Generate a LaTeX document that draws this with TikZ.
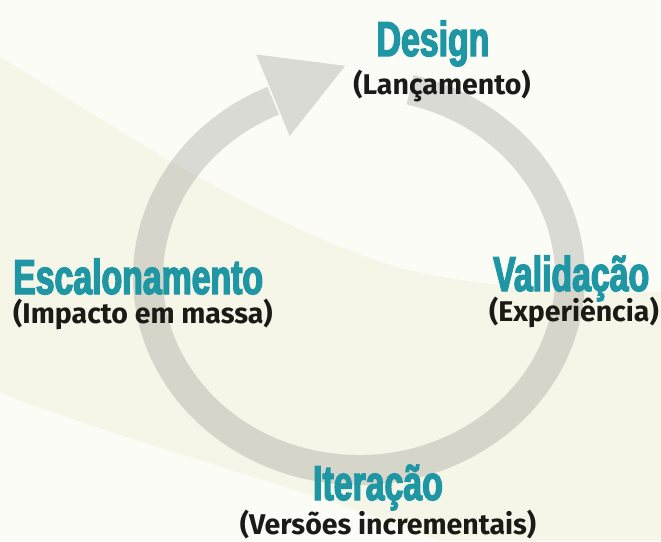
\documentclass[tikz,border=0pt]{standalone}
\usepackage{fontspec}
\setmainfont{Fira Sans}
\newfontfamily\headfont[FakeStretch=0.69,FakeBold=2.8]{Liberation Sans Bold}
\newfontfamily\subfont{Fira Sans}
\definecolor{bgbase}{RGB}{252,252,247}
\definecolor{bgpale}{RGB}{245,246,232}
\definecolor{ringgray}{RGB}{140,140,132}
\definecolor{teal}{RGB}{30,150,163}
\definecolor{darktext}{RGB}{26,26,22}
\tikzset{
  head/.style={inner sep=0pt, text=teal, font=\headfont\fontsize{49}{49}\selectfont},
  sub/.style={inner sep=0pt, text=darktext, font=\subfont\bfseries\fontsize{28.5}{28.5}\selectfont},
  ring/.style={draw=ringgray, draw opacity=0.3, line width=30pt},
  ringhead/.style={fill=ringgray, fill opacity=0.3, draw=none}
}
\begin{document}
\begin{tikzpicture}[x=1pt,y=1pt]
% background
\fill[bgbase] (0,0) rectangle (661,-541);
\useasboundingbox (0,0) rectangle (661,-541);
\fill[bgpale] (0,-57) .. controls (120,-130) and (260,-225) .. (400,-268)
  .. controls (500,-292) and (600,-292) .. (661,-292)
  -- (661,-541) -- (440,-541)
  .. controls (330,-495) and (150,-450) .. (0,-393) -- cycle;
% ring
\coordinate (c) at (359,-277);
\draw[ring] (c) ++(76:211pt and 193pt)
  arc[start angle=76, end angle=-246, x radius=211pt, y radius=193pt];
\fill[ringhead] (256.3,-54.5) -- (345.2,-65.8) -- (289.7,-136.0) -- cycle;
% labels
\node[head, anchor=base] (design) at (433,-56) {Design};
\node[sub, anchor=base] (designsub) at (442,-94) {(Lançamento)};
\node[head, anchor=base west] (esc) at (13,-294) {Escalonamento};
\node[sub, anchor=base west] (escsub) at (13,-323) {(Impacto em massa)};
\node[head, anchor=base west] (val) at (493,-291) {Validação};
\node[sub, anchor=base east] (valsub) at (659,-321) {(Experiência)};
\node[head, anchor=base] (iter) at (378,-500) {Iteração};
\node[sub, anchor=base] (itersub) at (388,-534) {(Versões incrementais)};
\end{tikzpicture}
\end{document}
